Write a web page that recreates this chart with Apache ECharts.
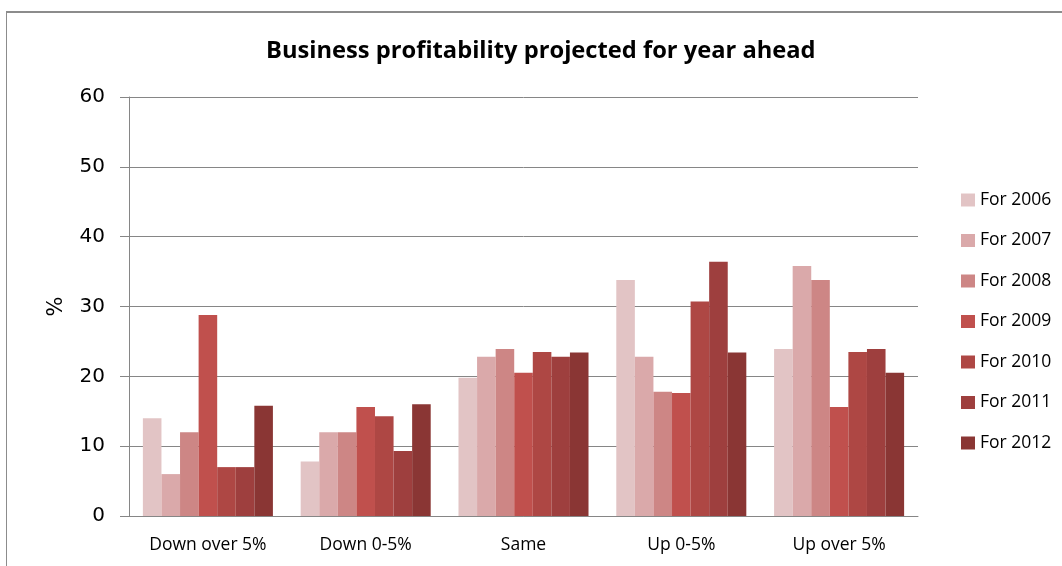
<!DOCTYPE html>
<html>
<head>
<meta charset="utf-8">
<script src="https://cdn.jsdelivr.net/npm/echarts@6/dist/echarts.min.js"></script>
<style>
  html, body { margin: 0; padding: 0; background: #fff; }
  #chart { width: 1062px; height: 566px; }
</style>
</head>
<body>
<div id="chart"></div>
<script>
// Profitability outlook, share of businesses (%) per answer, one series per survey year
const categories = ['Down over 5%', 'Down 0-5%', 'Same', 'Up 0-5%', 'Up over 5%'];
const seriesNames = ['For 2006', 'For 2007', 'For 2008', 'For 2009', 'For 2010', 'For 2011', 'For 2012'];
const for2006 = [14, 7.8, 19.8, 33.8, 23.9];
const for2007 = [6, 12, 22.8, 22.8, 35.8];
const for2008 = [12, 12, 23.9, 17.8, 33.8];
const for2009 = [28.8, 15.6, 20.5, 17.6, 15.6];
const for2010 = [7, 14.3, 23.5, 30.7, 23.5];
const for2011 = [7, 9.3, 22.8, 36.4, 23.9];
const for2012 = [15.8, 16, 23.4, 23.4, 20.5];
const yTicks = [0, 10, 20, 30, 40, 50, 60];

const seriesValues = [for2006, for2007, for2008, for2009, for2010, for2011, for2012];
const colors = ['#E2C4C5', '#DAA9AA', '#CD8685', '#C0504D', '#AE4744', '#9E3F3E', '#8A3634'];

const chart = echarts.init(document.getElementById('chart'), null, { renderer: 'canvas' });

chart.setOption({
  animation: false,
  backgroundColor: '#ffffff',
  color: colors,
  title: {
    text: 'Business profitability projected for year ahead',
    left: 261,
    top: 34,
    textStyle: {
      fontFamily: 'Open Sans',
      fontWeight: 'bold',
      fontSize: 23.7,
      color: '#000'
    }
  },
  graphic: [
    { type: 'line', shape: { x1: 6, y1: 12, x2: 1062, y2: 12 }, style: { stroke: '#8c8c8c', lineWidth: 2 } },
    { type: 'line', shape: { x1: 6.5, y1: 12, x2: 6.5, y2: 566 }, style: { stroke: '#8c8c8c', lineWidth: 1 } }
  ],
  legend: {
    orient: 'vertical',
    left: 956,
    top: 186,
    itemWidth: 14,
    itemHeight: 13,
    itemGap: 22.5,
    icon: 'rect',
    data: seriesNames,
    textStyle: { fontFamily: 'Open Sans', fontSize: 17.5, color: '#000' }
  },
  grid: { left: 129, right: 144, top: 97, bottom: 50, containLabel: false },
  xAxis: {
    type: 'category',
    data: categories,
    axisLine: { show: true, lineStyle: { color: '#868686', width: 1 } },
    axisTick: { show: false },
    axisLabel: { fontFamily: 'Open Sans', fontSize: 17.5, color: '#000', margin: 20 }
  },
  yAxis: {
    type: 'value',
    min: yTicks[0],
    max: yTicks[yTicks.length - 1],
    interval: 10,
    name: '%',
    nameLocation: 'middle',
    nameGap: 62,
    nameRotate: 90,
    nameTextStyle: { fontFamily: 'DejaVu Sans', fontSize: 21, color: '#000' },
    axisLine: { show: true, lineStyle: { color: '#868686', width: 1 } },
    axisTick: { show: true, inside: false, length: 9, lineStyle: { color: '#868686' } },
    axisLabel: { fontFamily: 'DejaVu Sans', fontSize: 20, color: '#000', margin: 24 },
    splitLine: { show: true, lineStyle: { color: '#868686', width: 1 } }
  },
  series: seriesNames.map((name, i) => ({
    name: name,
    type: 'bar',
    data: seriesValues[i],
    barGap: '0%',
    barCategoryGap: '17.6%',
    itemStyle: { color: colors[i] }
  }))
});
</script>
</body>
</html>
